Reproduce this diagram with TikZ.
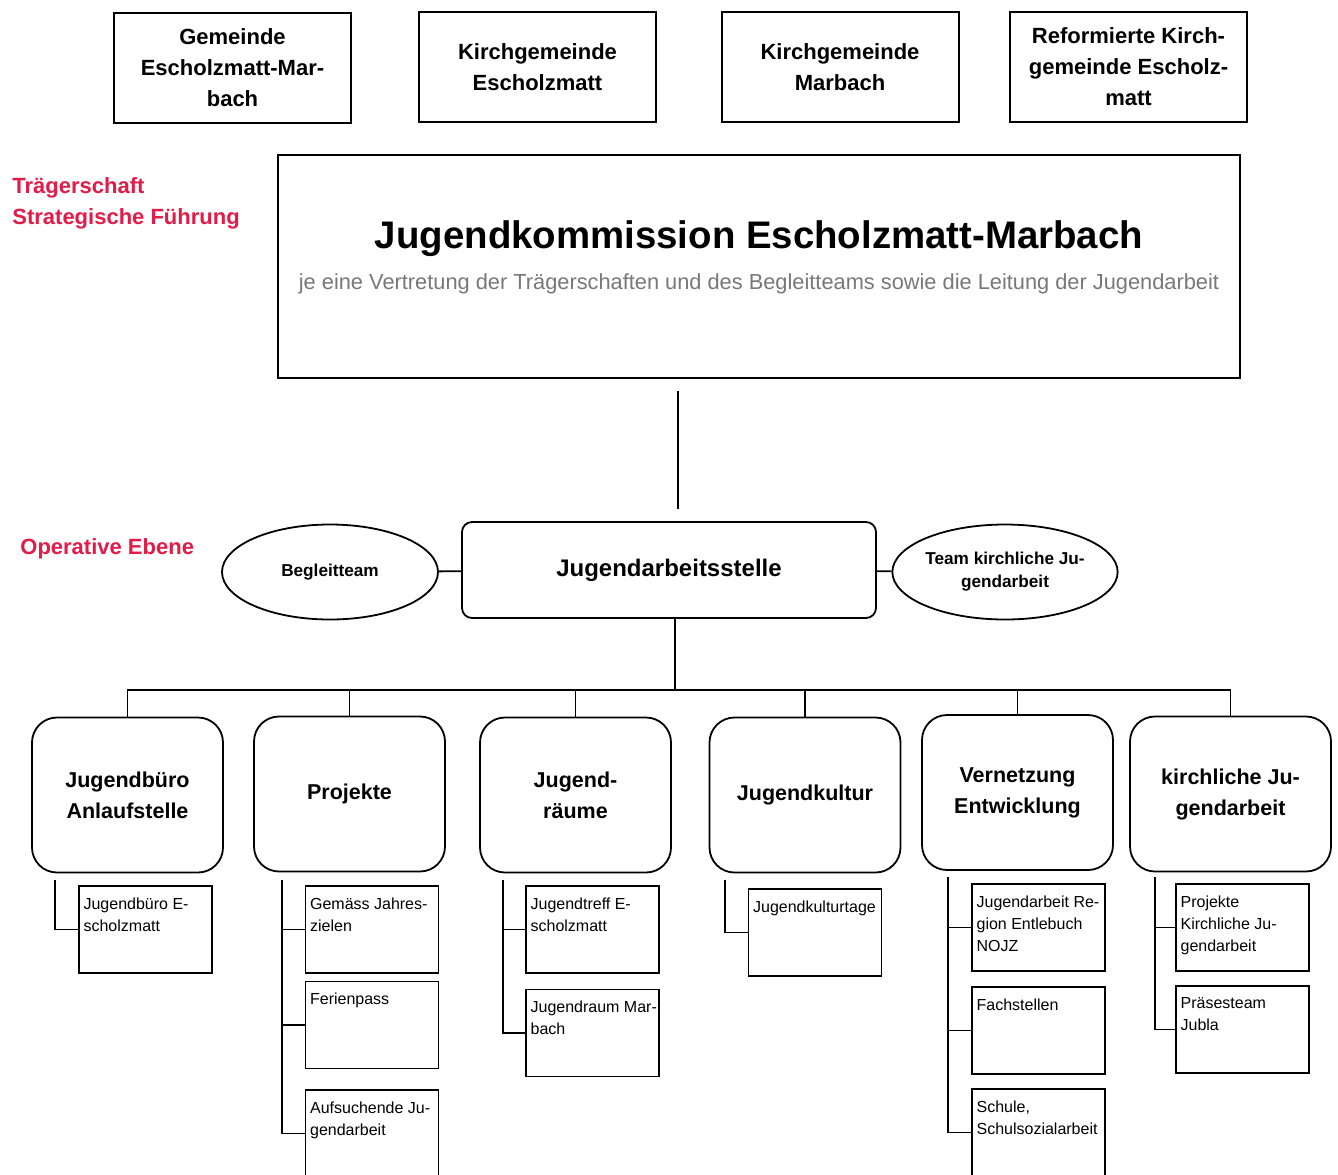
\documentclass[tikz,border=0pt]{standalone}
\usepackage{fontspec}
\setmainfont{Liberation Sans}
\usepackage{tikz}
\usetikzlibrary{shapes.geometric}
\definecolor{ebenered}{RGB}{226,28,72}
\definecolor{notegray}{RGB}{120,120,120}
\tikzset{%
  traeger/.style = {draw, line width=1pt, rectangle, align=center,
    minimum width=118.5pt, minimum height=55pt,
    font=\bfseries\fontsize{11}{15.5}\selectfont},
  ebene/.style = {text=ebenered, align=left, anchor=west, inner sep=0pt,
    font=\bfseries\fontsize{11}{15.5}\selectfont},
  begleit/.style = {draw, line width=0.9pt, ellipse, align=center, inner sep=0pt,
    minimum width=108pt, minimum height=47.5pt,
    font=\bfseries\fontsize{8.6}{11.5}\selectfont},
  bereich/.style = {draw, line width=0.9pt, rounded corners=12.5pt, align=center,
    minimum width=95.5pt, minimum height=77.5pt,
    font=\bfseries\fontsize{10.75}{15.5}\selectfont},
  angebottext/.style = {anchor=north west, align=left, inner xsep=2.5pt, inner ysep=6pt,
    font=\fontsize{8}{11}\selectfont},
  angebot/.style = {draw, line width=0.8pt, minimum width=66.5pt, minimum height=43.5pt,
    label={[angebottext]north west:#1}},
  linie/.style = {draw, line width=0.9pt}
}

\begin{document}
\begin{tikzpicture}[x=0.5pt, y=-0.5pt]
  \fill[white] (0,0) rectangle (1338,1174);
  \useasboundingbox (0,0) rectangle (1338,1174);

  % Traegerschaften
  \node[traeger] (gem) at (232.5,68) {Gemeinde\\Escholzmatt-Mar-\\bach};
  \node[traeger] (kgesch) at (537.5,67) {Kirchgemeinde\\Escholzmatt};
  \node[traeger] (kgmar) at (840,67) {Kirchgemeinde\\Marbach};
  \node[traeger] (ref) at (1128.5,66.5) {Reformierte Kirch-\\gemeinde Escholz-\\matt};

  \node[ebene] (strat) at (12,203) {Trägerschaft\\Strategische Führung};

  % Jugendkommission
  \node[draw, line width=1pt, minimum width=481pt, minimum height=111.5pt] (kom) at (759,266.5) {};
  \node[font=\bfseries\fontsize{19.2}{22}\selectfont] (komtitel) at (759,239) {Jugendkommission Escholzmatt-Marbach};
  \node[text=notegray, font=\fontsize{10.9}{12}\selectfont] (komtext) at (759,284)
    {je eine Vertretung der Trägerschaften und des Begleitteams sowie die Leitung der Jugendarbeit};

  % Operative Ebene
  \node[ebene] (oper) at (20,549) {Operative Ebene};
  \node[begleit] (beg) at (330,572) {Begleitteam};
  \node[draw, line width=0.9pt, rounded corners=5pt, minimum width=207pt, minimum height=48pt,
    font=\bfseries\fontsize{12}{14}\selectfont] (jas) at (669,570) {Jugendarbeitsstelle};
  \node[begleit] (tkj) at (1005,572) {Team kirchliche Ju-\\gendarbeit};

  \coordinate (k) at (678,0);
  \draw[linie, shorten <=6pt, shorten >=6pt] (kom.south -| k) -- (jas.north -| k);
  \draw[linie] (beg) -- (jas);
  \draw[linie] (jas) -- (tkj);

  % Bereiche
  \node[bereich] (buero) at (127.5,795) {Jugendbüro\\Anlaufstelle};
  \node[bereich] (proj) at (349.5,794) {Projekte};
  \node[bereich] (raum) at (575.5,795) {Jugend-\\räume};
  \node[bereich] (kult) at (805,795) {Jugendkultur};
  \node[bereich] (netz) at (1017.5,792.5) {Vernetzung\\Entwicklung};
  \node[bereich, minimum width=100.5pt] (kirch) at (1230.5,794) {kirchliche Ju-\\gendarbeit};

  \coordinate (bus) at (675,690);
  \draw[linie] (jas.south -| bus) -- (bus);
  \foreach \b in {buero,proj,raum,kult,netz,kirch}
    \draw[linie] (bus) -| (\b.north);

  % Angebote
  \node[angebot={Jugendbüro E-\\scholzmatt}] (a11) at (145.5,929.5) {};

  \node[angebot={Gemäss Jahres-\\zielen}] (a21) at (372,929.5) {};
  \node[angebot={Ferienpass}] (a22) at (372,1025) {};
  \node[angebot={Aufsuchende Ju-\\gendarbeit}] (a23) at (372,1133.5) {};

  \node[angebot={Jugendtreff E-\\scholzmatt}] (a31) at (592.5,929.5) {};
  \node[angebot={Jugendraum Mar-\\bach}] (a32) at (592.5,1033) {};

  \node[angebot={Jugendkulturtage}] (a41) at (815,932.5) {};

  \node[angebot={Jugendarbeit Re-\\gion Entlebuch\\NOJZ}] (a51) at (1038.5,927.5) {};
  \node[angebot={Fachstellen}] (a52) at (1038.5,1030.5) {};
  \node[angebot={{Schule,}\\Schulsozialarbeit}] (a53) at (1038.5,1132.5) {};

  \node[angebot={Projekte\\Kirchliche Ju-\\gendarbeit}] (a61) at (1242.5,927.5) {};
  \node[angebot={Präsesteam\\Jubla}] (a62) at (1242.5,1029.5) {};

  \coordinate (s1) at (55,880);
  \coordinate (s2) at (282,880);
  \coordinate (s3) at (503,880);
  \coordinate (s4) at (725,880);
  \coordinate (s5) at (948,877);
  \coordinate (s6) at (1155,877);

  \draw[linie] (s1) |- (a11.west);
  \foreach \a in {a21,a22,a23} \draw[linie] (s2) |- (\a.west);
  \foreach \a in {a31,a32} \draw[linie] (s3) |- (\a.west);
  \draw[linie] (s4) |- (a41.west);
  \foreach \a in {a51,a52,a53} \draw[linie] (s5) |- (\a.west);
  \foreach \a in {a61,a62} \draw[linie] (s6) |- (\a.west);
\end{tikzpicture}
\end{document}
